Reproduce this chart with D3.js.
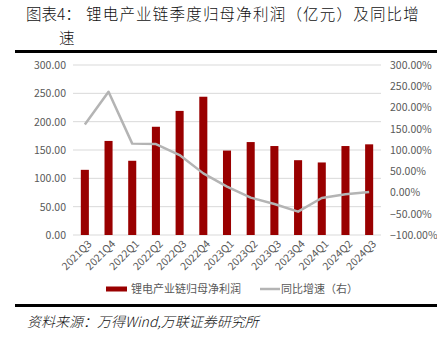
<!DOCTYPE html>
<html><head><meta charset="utf-8">
<script src="https://cdn.jsdelivr.net/npm/d3@7/dist/d3.min.js"></script>
<style>body{margin:0;background:#fff;}svg{display:block;}</style>
</head><body>
<svg id="c" width="437" height="338"></svg>
<script>
const categories = ["2021Q3","2021Q4","2022Q1","2022Q2","2022Q3","2022Q4","2023Q1","2023Q2","2023Q3","2023Q4","2024Q1","2024Q2","2024Q3"];
const profit = [115, 166, 131, 191, 219, 244, 149, 164, 157, 132, 128, 157, 160];
const growth = [160, 237, 115, 114, 88, 45, 14, -12, -27, -45, -13, -4, 1];
const leftTicks = [0, 50, 100, 150, 200, 250, 300];
const rightTicks = [-100, -50, 0, 50, 100, 150, 200, 250, 300];
const title1a = "图表4：";
const title1b = "锂电产业链季度归母净利润（亿元）及同比增";
const title2 = "速";
const legendLabels = ["锂电产业链归母净利润", "同比增速（右）"];
const source = "资料来源：万得Wind,万联证券研究所";

const svg = d3.select("#c");
const font = "'Noto Sans CJK SC', sans-serif";
const L = 73, R = 381, T = 65, B = 235;

const x = d3.scaleBand().domain(categories).range([L, R]).paddingInner(0.66).paddingOuter(0.33);
const yL = d3.scaleLinear().domain([0, 300]).range([B, T]);
const yR = d3.scaleLinear().domain([-100, 300]).range([B, T]);

// title
svg.append("text").attr("x", 26).attr("y", 20).attr("font-family", font).attr("font-size", 15.5).attr("font-weight", 300).attr("fill", "#111").text(title1a);
svg.append("text").attr("x", 86).attr("y", 20).attr("font-family", font).attr("font-size", 15.5).attr("font-weight", 300).attr("letter-spacing", 1.2).attr("fill", "#111").text(title1b);
svg.append("text").attr("x", 59).attr("y", 44).attr("font-family", font).attr("font-size", 15.5).attr("font-weight", 300).attr("fill", "#111").text(title2);
svg.append("rect").attr("x", 15).attr("y", 50).attr("width", 422).attr("height", 3).attr("fill", "#000");

// gridlines
svg.append("g").selectAll("line").data(leftTicks).join("line")
  .attr("x1", L).attr("x2", R).attr("y1", d => yL(d)).attr("y2", d => yL(d))
  .attr("stroke", "#d9d9d9").attr("stroke-width", 1);

// left axis
const gl = svg.append("g").attr("transform", `translate(${L},0)`)
  .call(d3.axisLeft(yL).tickValues(leftTicks).tickSize(0).tickPadding(7).tickFormat(d => d3.format(".2f")(d)));
gl.select(".domain").remove();
gl.selectAll("text").attr("font-family", font).attr("font-size", 10.5).attr("fill", "#595959");

// right axis
const gr = svg.append("g").attr("transform", `translate(${R},0)`)
  .call(d3.axisRight(yR).tickValues(rightTicks).tickSize(0).tickPadding(9).tickFormat(d => d3.format(".2f")(d) + "%"));
gr.select(".domain").remove();
gr.selectAll("text").attr("font-family", font).attr("font-size", 10.5).attr("fill", "#595959");

// bars
svg.append("g").selectAll("rect").data(profit).join("rect")
  .attr("x", (d, i) => x(categories[i]))
  .attr("width", x.bandwidth())
  .attr("y", d => yL(d)).attr("height", d => yL(0) - yL(d))
  .attr("fill", "#990000");

// line
const line = d3.line().x((d, i) => x(categories[i]) + x.bandwidth() / 2).y(d => yR(d));
svg.append("path").datum(growth).attr("d", line).attr("fill", "none")
  .attr("stroke", "#b4b4b4").attr("stroke-width", 2.5).attr("stroke-linejoin", "round");

// x labels
const gx = svg.append("g").attr("transform", `translate(0,${B})`)
  .call(d3.axisBottom(x).tickSize(0).tickPadding(0));
gx.select(".domain").remove();
gx.selectAll("text").attr("font-family", font).attr("font-size", 10.5).attr("fill", "#595959")
  .attr("text-anchor", "end").attr("dy", "0.35em")
  .attr("transform", "translate(5,7) rotate(-45)");

// legend
svg.append("rect").attr("x", 106).attr("y", 286.5).attr("width", 21).attr("height", 5).attr("fill", "#990000");
svg.append("text").attr("x", 131).attr("y", 293).attr("font-family", font).attr("font-size", 11).attr("fill", "#595959").text(legendLabels[0]);
svg.append("line").attr("x1", 260).attr("x2", 280).attr("y1", 289).attr("y2", 289).attr("stroke", "#b4b4b4").attr("stroke-width", 2.5);
svg.append("text").attr("x", 281).attr("y", 293).attr("font-family", font).attr("font-size", 11).attr("fill", "#595959").text(legendLabels[1]);

// bottom rule and source
svg.append("rect").attr("x", 15).attr("y", 304).attr("width", 422).attr("height", 3).attr("fill", "#000");
svg.append("text").attr("x", 27).attr("y", 327).attr("font-family", font).attr("font-size", 14).attr("font-style", "italic").attr("font-weight", 300).attr("fill", "#111").text(source);
</script>
</body></html>
